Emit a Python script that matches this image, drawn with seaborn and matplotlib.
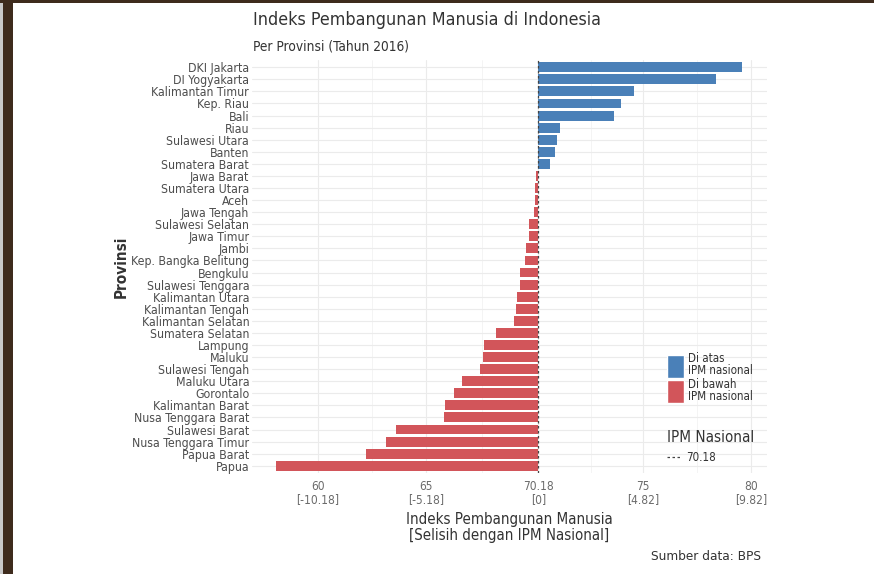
import matplotlib
matplotlib.use("Agg")
import matplotlib.pyplot as plt
import seaborn as sns
import pandas as pd
from matplotlib.patches import Patch, Rectangle
from matplotlib.lines import Line2D

provinsi = ["DKI Jakarta", "DI Yogyakarta", "Kalimantan Timur", "Kep. Riau", "Bali", "Riau",
            "Sulawesi Utara", "Banten", "Sumatera Barat", "Jawa Barat", "Sumatera Utara", "Aceh",
            "Jawa Tengah", "Sulawesi Selatan", "Jawa Timur", "Jambi", "Kep. Bangka Belitung",
            "Bengkulu", "Sulawesi Tenggara", "Kalimantan Utara", "Kalimantan Tengah",
            "Kalimantan Selatan", "Sumatera Selatan", "Lampung", "Maluku", "Sulawesi Tengah",
            "Maluku Utara", "Gorontalo", "Kalimantan Barat", "Nusa Tenggara Barat",
            "Sulawesi Barat", "Nusa Tenggara Timur", "Papua Barat", "Papua"]
ipm = [79.60, 78.38, 74.59, 73.99, 73.65, 71.20, 71.05, 70.96, 70.73, 70.05, 70.00, 70.00,
       69.98, 69.76, 69.74, 69.62, 69.55, 69.33, 69.31, 69.20, 69.13, 69.05, 68.24, 67.65,
       67.60, 67.47, 66.63, 66.29, 65.88, 65.81, 63.60, 63.13, 62.21, 58.05]
ipm_nasional = 70.18
tick_values = [60, 65, 70.18, 75, 80]
tick_labels = ["60\n[-10.18]", "65\n[-5.18]", "70.18\n[0]", "75\n[4.82]", "80\n[9.82]"]
kelompok_atas = "Di atas\nIPM nasional"
kelompok_bawah = "Di bawah\nIPM nasional"

df = pd.DataFrame({"Provinsi": provinsi, "IPM": ipm})
df["Selisih"] = df["IPM"] - ipm_nasional
df["Kelompok"] = [kelompok_atas if s > 0 else kelompok_bawah for s in df["Selisih"]]

sns.set_theme(style="whitegrid")
plt.rcParams["font.family"] = ["DejaVu Sans"]
plt.rcParams["font.stretch"] = "condensed"

fig = plt.figure(figsize=(8.74, 5.74), dpi=100)
fig.patch.set_facecolor("white")
ax = fig.add_axes([252/874, 1-473/574, (767-252)/874, (473-60)/574])
ax.set_facecolor("white")

pal = {kelompok_atas: "#4A80B8", kelompok_bawah: "#D2555A"}
sns.barplot(data=df, x="Selisih", y="Provinsi", hue="Kelompok", palette=pal, dodge=False,
            orient="h", width=0.82, saturation=1, ax=ax, legend=False, zorder=2,
            edgecolor="none")

ax.axvline(0, ls=(0, (2, 2)), color="#444444", lw=0.9, zorder=3)

ax.set_xlim(56.95 - ipm_nasional, 80.74 - ipm_nasional)
ax.set_ylim(len(provinsi) - 0.4, -0.6)
ax.set_xticks([v - ipm_nasional for v in tick_values])
ax.set_xticklabels(tick_labels, color="#6b6b6b", fontsize=8.6, linespacing=1.05)
ax.set_xticks([62.5 - ipm_nasional, 67.59 - ipm_nasional, 72.59 - ipm_nasional,
               77.5 - ipm_nasional], minor=True)
ax.tick_params(axis="y", labelsize=8.8, labelcolor="#4d4d4d", pad=2, length=0)
ax.tick_params(axis="x", pad=5, length=0)
ax.grid(True, which="major", color="#ebebeb", lw=0.8, zorder=0)
ax.grid(True, which="minor", axis="x", color="#f3f3f3", lw=0.6, zorder=0)
for s in ax.spines.values():
    s.set_visible(False)
ax.set_axisbelow(True)

ax.set_xlabel("Indeks Pembangunan Manusia\n[Selisih dengan IPM Nasional]", fontsize=10.8,
              color="#333333", labelpad=4, linespacing=1.1)
ax.set_ylabel("Provinsi", fontsize=11, color="#333333", fontweight="bold", labelpad=2)

fig.text(253/874, 1-20/574, "Indeks Pembangunan Manusia di Indonesia", fontsize=12.8,
         color="#333333", va="center", ha="left")
fig.text(253/874, 1-47/574, "Per Provinsi (Tahun 2016)", fontsize=9.8, color="#333333",
         va="center", ha="left")
fig.text(761/874, 1-557/574, "Sumber data: BPS", fontsize=9.7, color="#333333",
         va="center", ha="right")

handles = [Patch(facecolor=pal[kelompok_atas], label=kelompok_atas),
           Patch(facecolor=pal[kelompok_bawah], label=kelompok_bawah)]
leg1 = fig.legend(handles=handles, loc="upper left", bbox_to_anchor=(659/874, 1-344/574),
                  frameon=False, fontsize=8.3, handlelength=1.45, handleheight=2.7,
                  labelspacing=0.0, handletextpad=0.35, borderpad=0.2)
for t in leg1.get_texts():
    t.set_color("#333333")
    t.set_linespacing(0.9)

line_h = [Line2D([0], [0], color="#444444", ls=(0, (2, 2)), lw=0.9, label="70.18")]
leg2 = fig.legend(handles=line_h, loc="upper left", bbox_to_anchor=(657/874, 1-420/574),
                  frameon=False, fontsize=8.3, title="IPM Nasional", title_fontsize=10.9,
                  handlelength=1.2, handletextpad=0.4, alignment="left")
leg2.get_title().set_color("#333333")
for t in leg2.get_texts():
    t.set_color("#333333")

fig.patches.append(Rectangle((0, 0), 3/874, 1, transform=fig.transFigure,
                             facecolor="#c9c9c9", edgecolor="none", zorder=10))
fig.patches.append(Rectangle((3/874, 0), 10/874, 1, transform=fig.transFigure,
                             facecolor="#3e2b1d", edgecolor="none", zorder=10))
fig.patches.append(Rectangle((0, 1-3/574), 1, 3/574, transform=fig.transFigure,
                             facecolor="#3e2b1d", edgecolor="none", zorder=10))

fig.savefig("out.png", dpi=100)
